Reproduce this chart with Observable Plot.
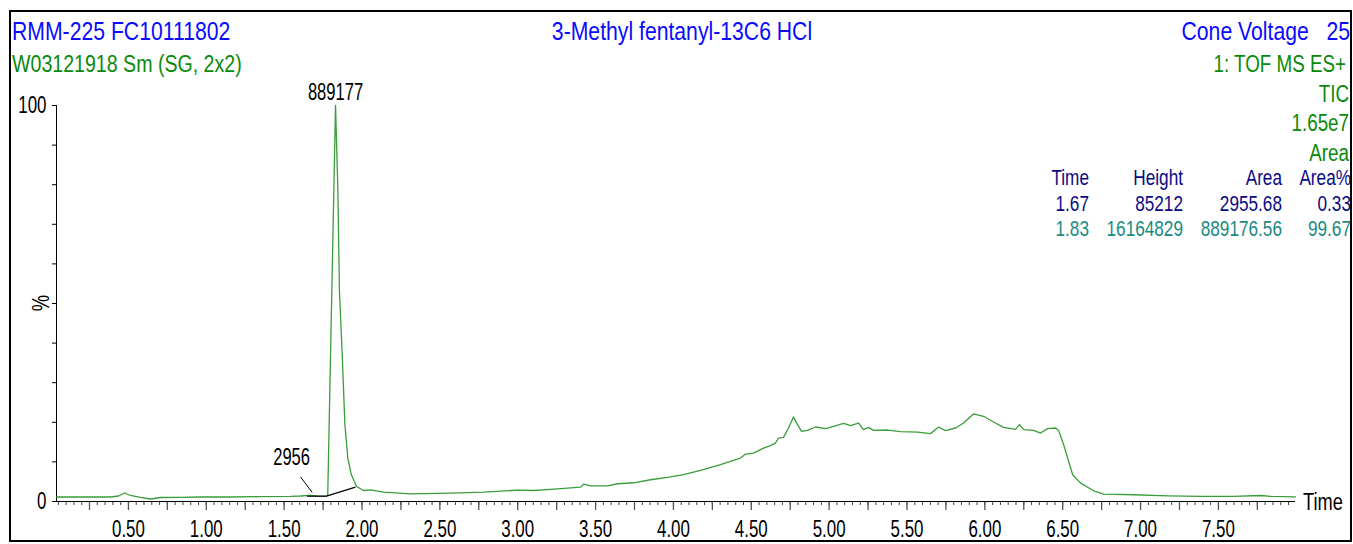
<!DOCTYPE html>
<html><head><meta charset="utf-8">
<script src="https://cdn.jsdelivr.net/npm/d3@7"></script>
<script src="https://cdn.jsdelivr.net/npm/@observablehq/plot@0.6"></script>
<style>
body{margin:0;background:#fff}
#chart{position:relative;width:1353px;height:544px}
</style>
</head><body><div id="chart"></div>
<script>
// ---- data ----
const time = [0.04,0.19,0.385,0.436,0.475,0.513,0.577,0.642,0.706,0.834,0.963,1.155,1.348,1.541,1.605,1.67,1.72,1.772,1.78,1.83,1.845,1.855,1.872,1.89,1.909,1.931,1.965,2.01,2.055,2.138,2.312,2.568,2.78,2.998,3.101,3.211,3.32,3.403,3.423,3.467,3.577,3.641,3.744,3.853,3.962,4.065,4.174,4.302,4.431,4.463,4.514,4.579,4.623,4.655,4.675,4.707,4.739,4.771,4.797,4.823,4.861,4.913,4.977,5.028,5.093,5.137,5.189,5.22,5.253,5.285,5.375,5.458,5.568,5.651,5.703,5.747,5.812,5.863,5.927,5.992,6.056,6.12,6.197,6.223,6.249,6.313,6.358,6.403,6.455,6.474,6.506,6.538,6.564,6.615,6.699,6.763,6.956,7.174,7.386,7.598,7.771,7.836,7.995];
const percent = [1.14,1.14,1.14,1.39,2.15,1.52,1.04,0.63,1.01,1.06,1.14,1.14,1.22,1.27,1.39,1.57,1.37,1.34,1.77,100,78.5,53.2,38,19.5,10.9,6.8,3.8,2.78,2.96,2.35,1.95,2.10,2.35,2.86,2.78,3.04,3.37,3.62,4.38,3.97,3.97,4.48,4.73,5.49,6.08,6.76,7.85,9.29,10.96,11.97,12.23,13.49,14.10,14.76,16.03,16.20,18.56,21.34,19.42,17.72,17.97,18.81,18.41,18.99,19.75,19.16,19.82,18.15,18.73,17.97,18.05,17.65,17.54,17.14,18.81,17.90,18.56,19.82,22.10,21.52,20.08,18.73,18.23,19.42,18.15,17.97,17.29,18.41,18.56,17.90,14.35,10.1,6.76,4.63,2.71,1.85,1.70,1.44,1.27,1.27,1.52,1.27,1.19];

// integration baselines
const baseX1 = [1.648, 1.772];
const baseY1 = [1.34, 1.34];
const baseX2 = [1.772, 1.958];
const baseY2 = [1.34, 3.62];

// peak annotations
const peakLabelText = ["889177", "2956"];
const peakLabelX = [1.83, 1.548];
const peakLabelY = [100, 7.8];
const leaderX1 = [1.605], leaderY1 = [6.2], leaderX2 = [1.68], leaderY2 = [2.3];

// axis ticks
const xDomain = [0.038, 7.995];
const minorTicks = d3.range(1, 160).map(i => i * 0.05);
const quarterTicks = d3.range(1, 32).map(i => i * 0.25);
const labelTicks = [0.5,1,1.5,2,2.5,3,3.5,4,4.5,5,5.5,6,6.5,7,7.5];
const yTicks = [0,10,20,30,40,50,60,70,80,90,100];

// header texts
const titleLeft = "RMM-225 FC10111802";
const subtitleLeft = "W03121918 Sm (SG, 2x2)";
const titleCenter = "3-Methyl fentanyl-13C6 HCl";
const titleRight = "Cone Voltage\u00a0\u00a0\u00a025";
const infoRight = ["1: TOF MS ES+", "TIC", "1.65e7", "Area"];
const tableHeader = ["Time", "Height", "Area", "Area%"];
const tableRows = [["1.67", "85212", "2955.68", "0.33"], ["1.83", "16164829", "889176.56", "99.67"]];

const FONT = "'Liberation Sans',Arial,sans-serif";
const BLUE = "#0a0aff", GREEN = "#0a8a0a", NAVY = "#0a0a85", TEAL = "#1a8a82", TRACE = "#3a9d3a";

const trace = time.map((t, i) => ({t, p: percent[i]}));
const bases = baseX1.map((x, i) => ({x1: x, y1: baseY1[i], x2: baseX2[i], y2: baseY2[i]}));
const labels = peakLabelText.map((s, i) => ({s, x: peakLabelX[i], y: peakLabelY[i]}));
const leaders = leaderX1.map((x, i) => ({x1: x, y1: leaderY1[i], x2: leaderX2[i], y2: leaderY2[i]}));

const W = 1353, H = 544;
const svg = Plot.plot({
  width: W, height: H,
  marginLeft: 56, marginRight: 58, marginTop: 105, marginBottom: 43,
  x: {domain: xDomain},
  y: {domain: [0, 100]},
  style: {fontFamily: FONT, fontSize: "23.5px", color: "#000", background: "#fff", overflow: "visible"},
  marks: [
    Plot.axisX({ticks: minorTicks, tickSize: 4, tickFormat: () => "", label: null, stroke: "#444"}),
    Plot.axisX({ticks: quarterTicks, tickSize: 9, tickFormat: () => "", label: null, stroke: "#555", strokeWidth: 1.3}),
    Plot.axisX({ticks: labelTicks, tickSize: 0, tickPadding: 19, tickFormat: d3.format(".2f"), label: null, fontSize: 23.5}),
    Plot.axisY({ticks: yTicks, tickSize: 4, tickPadding: 6, tickFormat: d => (d === 0 || d === 100) ? String(d) : "", label: null, fontSize: 23.5}),
    Plot.ruleY([0], {stroke: "#000", strokeWidth: 1.2}),
    Plot.ruleX([xDomain[0]], {y1: 0, y2: 100, stroke: "#000", strokeWidth: 1}),
    Plot.line(trace, {x: "t", y: "p", stroke: TRACE, strokeWidth: 1.3}),
    Plot.link(bases, {x1: "x1", y1: "y1", x2: "x2", y2: "y2", stroke: "#000", strokeWidth: 1.2}),
    Plot.link(leaders, {x1: "x1", y1: "y1", x2: "x2", y2: "y2", stroke: "#000", strokeWidth: 1}),
    Plot.text(labels, {x: "x", y: "y", text: "s", lineAnchor: "bottom", dy: -6, fontSize: 23, fill: "#000", ariaLabel: "peak label"})
  ]
});
document.getElementById("chart").appendChild(svg);

const s = d3.select(svg);
s.append("rect").attr("x", 10).attr("y", 11).attr("width", 1341).attr("height", 530)
  .attr("fill", "none").attr("stroke", "#000").attr("stroke-width", 2);

function txt(x, y, str, color, size, anchor, k) {
  return s.append("text").attr("x", x).attr("y", y).attr("fill", color)
    .attr("font-size", size).attr("font-family", FONT).attr("text-anchor", anchor)
    .attr("data-k", k).text(str);
}
txt(12, 40, titleLeft, BLUE, 26.5, "start", 0.8);
txt(12, 72, subtitleLeft, GREEN, 24.5, "start", 0.8);
txt(682, 40, titleCenter, BLUE, 26.5, "middle", 0.8);
txt(1350, 40, titleRight, BLUE, 26.5, "end", 0.8);
txt(1346, 72, infoRight[0], GREEN, 23.5, "end", 0.8);
txt(1349, 102, infoRight[1], GREEN, 23.5, "end", 0.8);
txt(1349, 131, infoRight[2], GREEN, 23.5, "end", 0.8);
txt(1349, 161, infoRight[3], GREEN, 23.5, "end", 0.8);
const colRight = [1089, 1183, 1282, 1351];
tableHeader.forEach((h, i) => txt(colRight[i], 185, h, NAVY, 21.5, "end", 0.8));
tableRows[0].forEach((v, i) => txt(colRight[i], 211, v, NAVY, 21.5, "end", 0.8));
tableRows[1].forEach((v, i) => txt(colRight[i], 236, v, TEAL, 21.5, "end", 0.8));
// axis titles
txt(1303, 510, "Time", "#000", 24, "start", 0.76);
s.append("text").attr("transform", "translate(49,303) rotate(-90)").attr("text-anchor", "middle")
  .attr("font-size", 23).attr("font-family", FONT).attr("fill", "#000").attr("data-k", 0.8).text("%");

// condense text horizontally (narrow typeface look), keeping each anchor fixed
svg.querySelectorAll("text").forEach(el => {
  let k = el.getAttribute("data-k");
  if (k == null) k = 0.72; // axis tick labels and peak labels are narrower
  const ax = parseFloat(el.getAttribute("x")) || 0;
  const tr = el.getAttribute("transform") || "";
  el.setAttribute("transform", `${tr} translate(${ax},0) scale(${k},1) translate(${-ax},0)`);
});
</script>
</body></html>
